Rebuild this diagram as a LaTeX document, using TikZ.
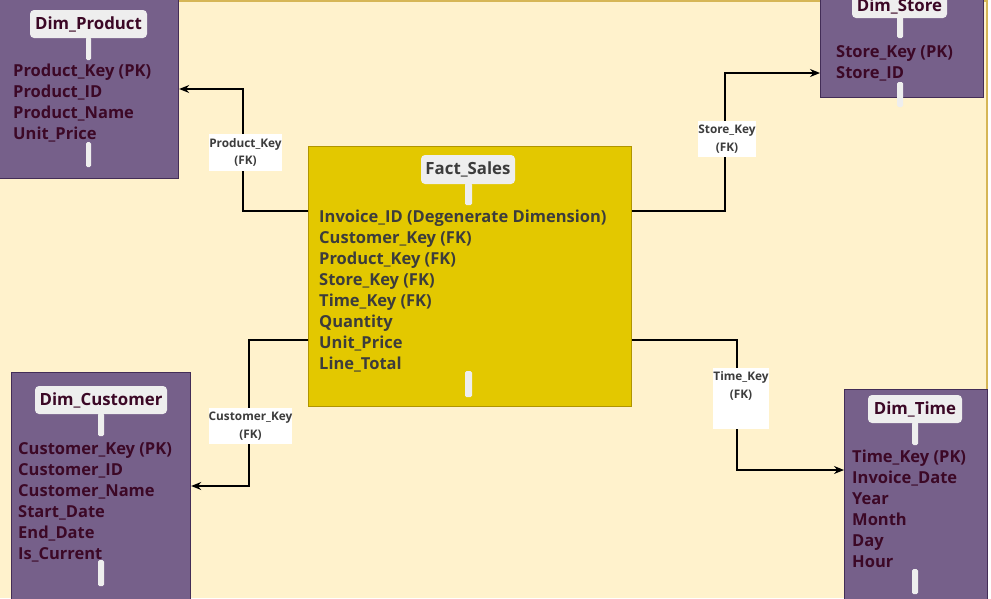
\documentclass[tikz,border=0pt]{standalone}
\usepackage{fontspec}
\setmainfont{Open Sans}
\usetikzlibrary{arrows.meta}
\definecolor{bgc}{HTML}{FFF2CC}
\definecolor{bgb}{HTML}{D6B656}
\definecolor{dimf}{HTML}{76608A}
\definecolor{dimd}{HTML}{432D57}
\definecolor{factf}{HTML}{E3C800}
\definecolor{factd}{HTML}{B09500}
\definecolor{ttl}{HTML}{EEEEEE}
\definecolor{dimtxt}{RGB}{60,8,38}
\definecolor{facttxt}{HTML}{3C3C3C}
\newcommand\flds[1]{\begin{tabular}[t]{@{}l@{}}#1\end{tabular}}
\tikzset{
 dimbox/.style={draw=dimd, fill=dimf, line width=1.2pt, inner sep=0pt, anchor=north west},
 factbox/.style={draw=factd, fill=factf, line width=1.2pt, inner sep=0pt, anchor=north west},
 titlebox/.style={fill=ttl, rounded corners=4pt, inner sep=0pt, font=\bfseries\fontsize{16.8}{16.8}\selectfont},
 bar/.style={fill=ttl, rounded corners=1.5pt},
 fields/.style={anchor=base west, inner sep=0pt, font=\bfseries\fontsize{16.5}{21}\selectfont},
 fklabel/.style={fill=white, inner sep=0pt, font=\bfseries\fontsize{11.8}{17.5}\selectfont, text=facttxt, align=center},
 conn/.style={line width=1.2pt, -{Stealth[length=10pt,width=8pt]}},
}
\begin{document}
\begin{tikzpicture}[x=1pt,y=-1pt]
\useasboundingbox (0,0) rectangle (991,598);
\fill[white] (0,0) rectangle (991,598);
\fill[bgc] (0,0) rectangle (987,598);
\draw[bgb, line width=1.5pt] (0,0.75) -- (987,0.75) -- (987,598);

% boxes
\node[dimbox, minimum width=180pt, minimum height=180pt] (prod) at (-2,-2) {};
\node[dimbox, minimum width=163pt, minimum height=99pt] (store) at (820,-2) {};
\node[factbox, minimum width=323pt, minimum height=260pt] (fact) at (308,146) {};
\node[dimbox, minimum width=179pt, minimum height=240pt] (cust) at (11,372) {};
\node[dimbox, minimum width=143pt, minimum height=222pt] (time) at (844,389) {};

% titles and bars
\node[titlebox, text=dimtxt, minimum width=117pt, minimum height=28pt] (prodT) at (88.5,24) {Dim\_Product};
\fill[bar] (86,37) rectangle (91,60);
\fill[bar] (86,142) rectangle (91,167);

\node[titlebox, text=dimtxt, minimum width=95pt, minimum height=24pt] (storeT) at (899.5,6) {Dim\_Store};
\fill[bar] (897,16) rectangle (903,38);
\fill[bar] (897,82) rectangle (903,107);

\node[titlebox, text=facttxt, minimum width=94pt, minimum height=29pt] (factT) at (468,169.5) {Fact\_Sales};
\fill[bar] (465,183) rectangle (472,205);
\fill[bar] (465,371) rectangle (472,397);

\node[titlebox, text=dimtxt, minimum width=132pt, minimum height=28pt] (custT) at (101,400) {Dim\_Customer};
\fill[bar] (98,413) rectangle (104,436);
\fill[bar] (98,560) rectangle (104,586);

\node[titlebox, text=dimtxt, minimum width=94pt, minimum height=28pt] (timeT) at (915,409) {Dim\_Time};
\fill[bar] (912,422) rectangle (918,445);
\fill[bar] (912,569) rectangle (918,594);

% fields
\node[fields, text=dimtxt] (prodF) at (13,76) {\flds{Product\_Key (PK)\\Product\_ID\\Product\_Name\\Unit\_Price}};
\node[fields, text=dimtxt] (storeF) at (836,57) {\flds{Store\_Key (PK)\\Store\_ID}};
\node[fields, text=facttxt] (factF) at (319,222) {\flds{Invoice\_ID (Degenerate Dimension)\\Customer\_Key (FK)\\Product\_Key (FK)\\Store\_Key (FK)\\Time\_Key (FK)\\Quantity\\Unit\_Price\\Line\_Total}};
\node[fields, text=dimtxt] (custF) at (18,454) {\flds{Customer\_Key (PK)\\Customer\_ID\\Customer\_Name\\Start\_Date\\End\_Date\\Is\_Current}};
\node[fields, text=dimtxt] (timeF) at (852,462) {\flds{Time\_Key (PK)\\Invoice\_Date\\Year\\Month\\Day\\Hour}};

% connectors
\draw[conn] (fact.west |- 0,211) -- (243,211) |- (prod.east |- 0,89);
\draw[conn] (fact.east |- 0,211) -- (725,211) |- (store.west |- 0,73);
\draw[conn] (fact.west |- 0,340) -- (249,340) |- (cust.east |- 0,486);
\draw[conn] (fact.east |- 0,340) -- (737,340) |- (time.west |- 0,470);

% connector labels
\node[fklabel, minimum width=73pt, minimum height=37pt] (l1) at (245.5,152.5) {Product\_Key\\(FK)};
\node[fklabel, minimum width=58pt, minimum height=36pt] (l2) at (727,139) {Store\_Key\\(FK)};
\node[fklabel, minimum width=83pt, minimum height=36pt] (l3) at (250.5,426) {Customer\_Key\\(FK)};
\fill[white] (713,368) rectangle (769,429);
\node[fklabel, fill=none] (l4) at (741,386) {Time\_Key\\(FK)};
\end{tikzpicture}
\end{document}
